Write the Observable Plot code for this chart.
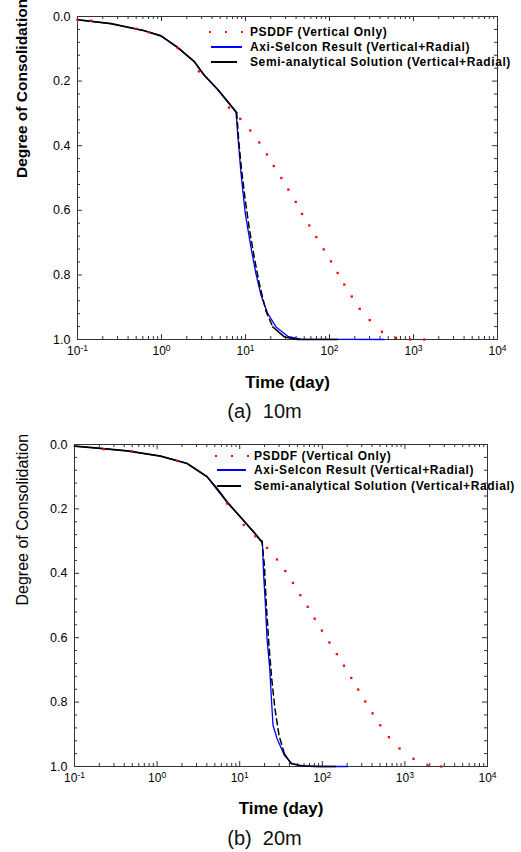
<!DOCTYPE html>
<html>
<head>
<meta charset="utf-8">
<script src="https://cdn.jsdelivr.net/npm/d3@7"></script>
<script src="https://cdn.jsdelivr.net/npm/@observablehq/plot@0.6"></script>
<style>
  html, body { margin: 0; padding: 0; background: #fff; }
  body { width: 521px; height: 852px; overflow: hidden; font-family: "Liberation Sans", Arial, sans-serif; }
  .panel { position: relative; width: 521px; }
  .panel svg { display: block; }
  .cap { height: 25px; line-height: 22px; font-size: 20px; text-align: center; white-space: pre;
         padding-left: 8px; box-sizing: border-box; width: 521px; font-family: "Liberation Sans", Arial, sans-serif; color: #111; overflow: visible; }
  .legend-row { position: absolute; height: 14px; white-space: nowrap; }
  .legend-row .lbl { position: absolute; top: 0; line-height: 14px; font-size: 12px; font-weight: bold; letter-spacing: 0.6px; color: #000; }
  .legend-row .sw { position: absolute; }
</style>
</head>
<body>
<div class="panel" id="panelA"></div>
<div class="cap" id="capA"></div>
<div class="panel" id="panelB"></div>
<div class="cap" id="capB"></div>
<script>
// ---------- shared labels / ticks ----------
const xTicksMajor = [0.1, 1, 10, 100, 1000, 10000];
const yTicksMajor = [0, 0.2, 0.4, 0.6, 0.8, 1.0];
const legendLabels = ["PSDDF (Vertical Only)", "Axi-Selcon Result (Vertical+Radial)", "Semi-analytical Solution (Vertical+Radial)"];
const xTitle = "Time (day)";
const yTitle = "Degree of Consolidation";
const captions = ["(a)  10m", "(b)  20m"];

// ---------- panel (a) 10m ----------
const a_psddf_t = [0.1, 0.145, 0.497, 0.71, 1.56, 2.79, 6.37, 8.67, 11.4, 14.6, 18.0, 21.7, 26.7, 32.4, 39.6, 47.1, 57.5, 69.7, 85.3, 104, 125, 150, 184, 229, 301, 421, 620, 916, 1346];
const a_psddf_u = [0.010, 0.013, 0.038, 0.049, 0.098, 0.17, 0.282, 0.317, 0.353, 0.39, 0.427, 0.463, 0.5, 0.536, 0.574, 0.611, 0.647, 0.683, 0.721, 0.758, 0.794, 0.83, 0.867, 0.905, 0.94, 0.976, 0.995, 1.0, 1.0];
const a_axi_t = [0.1, 0.25, 0.624, 0.986, 1.56, 2.46, 3.23, 4.67, 6.71, 7.71, 8.07, 8.84, 9.95, 11.6, 13.3, 15.3, 18.4, 23.1, 31.8, 45.7, 447];
const a_axi_u = [0.010, 0.022, 0.044, 0.06, 0.096, 0.14, 0.182, 0.226, 0.276, 0.297, 0.363, 0.487, 0.611, 0.714, 0.796, 0.863, 0.92, 0.961, 0.99, 0.999, 1.0];
const a_semi_t = [0.1, 0.25, 0.624, 0.986, 1.56, 2.46, 3.23, 4.67, 6.71, 7.85, 8.3, 9.0, 9.95, 11.1, 12.7, 14.6, 17.5, 21.1, 29, 41.7, 125];
const a_semi_u = [0.010, 0.022, 0.044, 0.06, 0.096, 0.14, 0.182, 0.226, 0.276, 0.297, 0.384, 0.477, 0.57, 0.657, 0.745, 0.827, 0.912, 0.961, 0.992, 1.0, 1.0];

// ---------- panel (b) 20m ----------
const b_psddf_t = [0.226, 0.5, 1.75, 7.0, 11.2, 15.5, 21.4, 28.3, 35.7, 44.2, 54.2, 66.5, 80.8, 99, 122, 150, 183, 224, 272, 331, 406, 503, 640, 861, 1273, 1880, 2755];
const b_psddf_u = [0.0146, 0.021, 0.051, 0.183, 0.25, 0.285, 0.321, 0.357, 0.393, 0.43, 0.468, 0.504, 0.541, 0.578, 0.615, 0.651, 0.687, 0.725, 0.761, 0.798, 0.835, 0.872, 0.909, 0.944, 0.976, 0.995, 1.0];
const b_axi_t = [0.1, 0.206, 0.435, 1.1, 2.31, 4.03, 5.32, 7.03, 10.2, 14.8, 17.8, 18.8, 19.5, 20.4, 21.4, 23.1, 24.2, 25.3, 28.3, 34.7, 43, 59.4, 95, 204];
const b_axi_u = [0.005, 0.012, 0.02, 0.036, 0.059, 0.1, 0.14, 0.18, 0.225, 0.272, 0.297, 0.30, 0.406, 0.489, 0.602, 0.696, 0.789, 0.872, 0.913, 0.965, 0.991, 0.998, 1.0, 1.0];
const b_semi_t = [0.1, 0.206, 0.435, 1.1, 2.31, 4.03, 5.32, 7.03, 10.2, 14.8, 17.8, 18.6, 19.9, 21.0, 22.6, 24.4, 26.7, 29.9, 34.7, 41.8, 54.2, 78.5, 144];
const b_semi_u = [0.005, 0.012, 0.02, 0.036, 0.059, 0.1, 0.137, 0.178, 0.225, 0.272, 0.297, 0.302, 0.375, 0.499, 0.623, 0.727, 0.82, 0.903, 0.96, 0.991, 0.998, 1.0, 1.0];

const zip = (ts, us) => ts.map((t, i) => ({t, u: us[i]}));

function minorXTicks() {
  const out = [];
  for (let e = -1; e < 4; e++) for (let m = 2; m <= 9; m++) out.push(m * Math.pow(10, e));
  return out;
}
function minorYTicks() {
  const out = [];
  for (let k = 1; k < 25; k++) if (k % 5 !== 0) out.push(k * 0.04);
  return out;
}

function buildPanel(cfg) {
  const psddf = zip(cfg.pt, cfg.pu);
  const axi = zip(cfg.at, cfg.au);
  const semi = zip(cfg.st, cfg.su);
  const semiEarly = semi.filter(d => d.u <= 0.303);
  const semiMid = semi.filter(d => d.u >= 0.296 && d.u <= 0.965);
  const semiLate = semi.filter(d => d.u >= 0.955);

  const FH = cfg.height - cfg.mt - cfg.mb;   // frame height (px)
  const FW = 521 - cfg.ml - cfg.mr;          // frame width (px)
  const tk = {stroke: "#333", strokeWidth: 1};
  // inward tick marks: rules on the x / y scales, inset to a short length
  const ticksBottom = (v, len) => Plot.ruleX(v, {x: d => d, insetTop: FH - len, ...tk});
  const ticksTop = (v, len) => Plot.ruleX(v, {x: d => d, insetBottom: FH - len, ...tk});
  const ticksLeft = (v, len) => Plot.ruleY(v, {y: d => d, insetRight: FW - len, ...tk});
  const ticksRight = (v, len) => Plot.ruleY(v, {y: d => d, insetLeft: FW - len, ...tk});

  const svg = Plot.plot({
    width: 521,
    height: cfg.height,
    marginTop: cfg.mt, marginBottom: cfg.mb, marginLeft: cfg.ml, marginRight: cfg.mr,
    x: {type: "log", domain: [0.1, 10000]},
    y: {domain: [0, 1], reverse: true},
    style: {fontFamily: "'Liberation Sans', Arial, sans-serif", color: "#000", background: "#fff", overflow: "visible"},
    marks: [
      ticksBottom(minorXTicks(), 3),
      ticksTop(minorXTicks(), 3),
      ticksBottom(xTicksMajor, 5),
      ticksTop(xTicksMajor, 5),
      ticksLeft(minorYTicks(), 3),
      ticksRight(minorYTicks(), 3),
      ticksLeft(yTicksMajor, 5),
      ticksRight(yTicksMajor, 5),
      Plot.axisX({ticks: xTicksMajor, anchor: "bottom", tickSize: 0, tickPadding: 7, fontSize: 12,
                  tickFormat: d => "10^" + Math.round(Math.log10(d)), label: null}),
      Plot.axisY({ticks: yTicksMajor, anchor: "left", tickSize: 0, tickPadding: 7, fontSize: 12.5,
                  tickFormat: d3.format(".1f"), label: null}),
      Plot.frame({stroke: "#333", strokeWidth: 1}),
      // data
      Plot.line(axi, {x: "t", y: "u", stroke: "#0000ff", strokeWidth: 1.3}),
      Plot.line(semiEarly, {x: "t", y: "u", stroke: "#000", strokeWidth: 1.7}),
      Plot.line(semiMid, {x: "t", y: "u", stroke: "#000", strokeWidth: 1.5, strokeDasharray: "6,4"}),
      Plot.line(semiLate, {x: "t", y: "u", stroke: "#000", strokeWidth: 1.5}),
      Plot.dot(psddf, {x: "t", y: "u", r: 1.3, symbol: "square", fill: "#ff0000", stroke: "none"}),
      // titles
      Plot.text([xTitle], {text: d => d, frameAnchor: "bottom", dy: cfg.xTitleDy, fontSize: 17, fontWeight: "bold", lineAnchor: "middle"}),
      Plot.text([yTitle], {text: d => d, frameAnchor: "left", dx: cfg.yTitleDx, rotate: -90, fontSize: cfg.yTitleSize, fontWeight: cfg.yTitleWeight, lineAnchor: "middle"})
    ]
  });

  // superscript exponents on the log-axis tick labels
  svg.querySelectorAll("text").forEach(t => {
    const m = /^10\^(-?\d+)$/.exec(t.textContent);
    if (m) {
      t.textContent = "";
      const base = document.createElementNS("http://www.w3.org/2000/svg", "tspan");
      base.textContent = "10";
      const sup = document.createElementNS("http://www.w3.org/2000/svg", "tspan");
      sup.textContent = m[1];
      sup.setAttribute("font-size", "8.5");
      sup.setAttribute("dy", "-4");
      t.appendChild(base);
      t.appendChild(sup);
    }
  });

  const host = document.getElementById(cfg.id);
  host.appendChild(svg);

  // legend (HTML overlay)
  const colors = ["#ff0000", "#0000ff", "#000000"];
  legendLabels.forEach((lab, i) => {
    const row = document.createElement("div");
    row.className = "legend-row";
    row.style.left = cfg.lgX + "px";
    row.style.top = Math.round(cfg.lgY[i] - 7) + "px";
    row.style.width = "320px";
    if (i === 0) {
      [0, 16, 32].forEach(off => {
        const s = document.createElement("div");
        s.className = "sw";
        s.style.left = (off - 1) + "px";
        s.style.top = "6px";
        s.style.width = "2px"; s.style.height = "2px";
        s.style.background = colors[0];
        row.appendChild(s);
      });
    } else {
      const s = document.createElement("div");
      s.className = "sw";
      s.style.left = "1px";
      s.style.top = "6px";
      s.style.width = (i === 1 ? cfg.lgW : cfg.lgW - 5) + "px";
      s.style.height = "2px";
      s.style.background = colors[i];
      row.appendChild(s);
    }
    const l = document.createElement("div");
    l.className = "lbl";
    l.style.left = cfg.lgTextDx + "px";
    l.textContent = lab;
    row.appendChild(l);
    host.appendChild(row);
  });
}

buildPanel({id: "panelA", height: 400, mt: 16, mb: 61, ml: 77, mr: 24,
  pt: a_psddf_t, pu: a_psddf_u, at: a_axi_t, au: a_axi_u, st: a_semi_t, su: a_semi_u,
  xTitleDy: 43, yTitleDx: -55, yTitleSize: 15.5, yTitleWeight: "bold",
  lgX: 210, lgY: [32, 47.3, 62.3], lgW: 31, lgTextDx: 40});
buildPanel({id: "panelB", height: 402, mt: 19, mb: 61, ml: 74, mr: 34,
  pt: b_psddf_t, pu: b_psddf_u, at: b_axi_t, au: b_axi_u, st: b_semi_t, su: b_semi_u,
  xTitleDy: 42, yTitleDx: -52, yTitleSize: 16, yTitleWeight: "normal",
  lgX: 216, lgY: [30.7, 45, 60.7], lgW: 29, lgTextDx: 38});

document.getElementById("capA").textContent = captions[0];
document.getElementById("capB").textContent = captions[1];
</script>
</body>
</html>
